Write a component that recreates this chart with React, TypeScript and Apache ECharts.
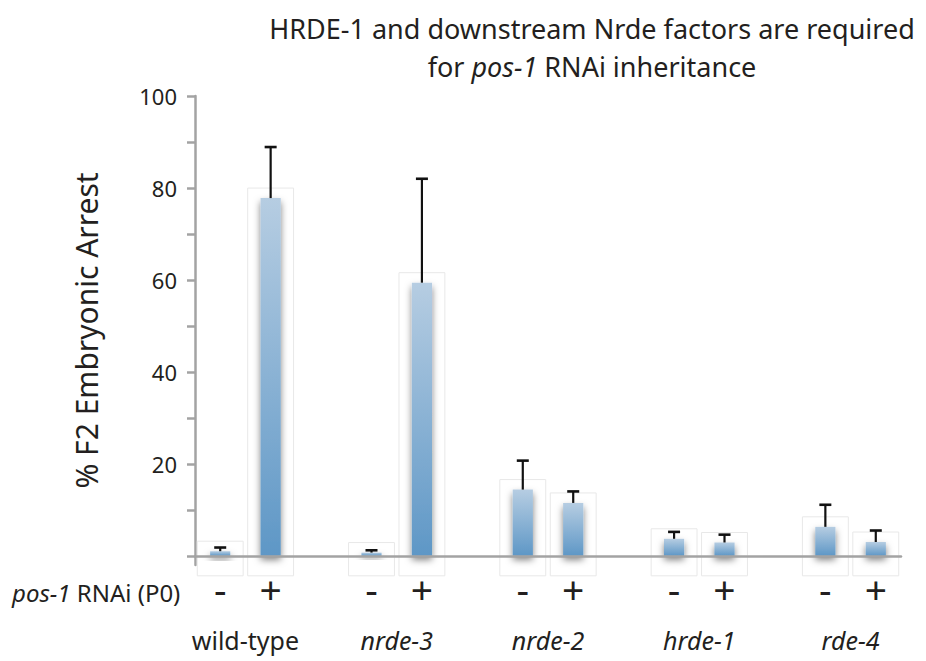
import React, { useEffect, useRef } from "react";
import * as echarts from "echarts";

// Strains tested, each shown without (-) and with (+) pos-1 RNAi in the P0
const strains = ["wild-type", "nrde-3", "nrde-2", "hrde-1", "rde-4"];
const italicStrain = [false, true, true, true, true];
const treatments = ["-", "+"];

// % F2 embryonic arrest, mean and error, ordered [-, +] per strain
const meanMinus = [1.0, 0.7, 14.4, 3.7, 6.3];
const meanPlus = [77.8, 59.4, 11.5, 2.9, 3.0];
const errMinus = [0.8, 0.5, 6.3, 1.5, 4.8];
const errPlus = [11.1, 22.6, 2.5, 1.7, 2.5];

const yTicks = [0, 10, 20, 30, 40, 50, 60, 70, 80, 90, 100];
const yLabels = [20, 40, 60, 80, 100];

const FONT = "Noto Sans";
const INK = "#231f20";

// Category slots: two bars per strain, one empty slot between strains
const slotLabels: string[] = [];
const barData: number[][] = [];
strains.forEach((_, i) => {
  const base = slotLabels.length;
  slotLabels.push(treatments[0], treatments[1]);
  barData.push([base, meanMinus[i], errMinus[i]]);
  barData.push([base + 1, meanPlus[i], errPlus[i]]);
  if (i < strains.length - 1) slotLabels.push("");
});
// group label sits midway between its two bars
const groupCentres = strains.map((_, i) => i * 3 + 1);

export default function App() {
  const ref = useRef<HTMLDivElement>(null);

  useEffect(() => {
    if (!ref.current) return;
    document.body.style.margin = "0";
    const chart = echarts.init(ref.current, undefined, { renderer: "svg" });

    const renderItem = (params: any, api: any) => {
      const slot = api.value(0);
      const mean = api.value(1);
      const err = api.value(2);
      const [cx, yTop] = api.coord([slot, mean]);
      const [, y0] = api.coord([slot, 0]);
      const [, yErr] = api.coord([slot, mean + err]);
      const band = api.size([1, 0])[0];
      const frameW = band * 0.91;
      const barW = band * 0.4;
      const capW = 12;
      return {
        type: "group",
        children: [
          {
            type: "rect",
            shape: { x: cx - frameW / 2, y: yTop - 10, width: frameW, height: y0 + 20 - (yTop - 10) },
            style: { fill: "rgba(255,255,255,0)", stroke: "#e8e8e8", lineWidth: 1 },
          },
          {
            type: "rect",
            shape: { x: cx - barW / 2, y: yTop, width: barW, height: y0 - yTop },
            style: {
              fill: {
                type: "linear",
                x: 0, y: 0, x2: 0, y2: 1,
                colorStops: [
                  { offset: 0, color: "#b6cde2" },
                  { offset: 1, color: "#5e97c6" },
                ],
              },
              shadowBlur: 7,
              shadowColor: "rgba(0,0,0,0.5)",
              shadowOffsetY: 4,
            },
          },
          {
            type: "line",
            shape: { x1: cx, y1: yTop, x2: cx, y2: yErr },
            style: { stroke: "#111", lineWidth: 2.2 },
          },
          {
            type: "line",
            shape: { x1: cx - capW / 2, y1: yErr, x2: cx + capW / 2, y2: yErr },
            style: { stroke: "#111", lineWidth: 2.6 },
          },
        ],
      };
    };

    chart.setOption({
      animation: false,
      textStyle: { fontFamily: FONT },
      grid: { left: 195, right: 25, top: 96, bottom: 96, containLabel: false },
      xAxis: [
        {
          type: "category",
          data: slotLabels,
          z: 3,
          axisLine: { onZero: true, lineStyle: { color: "#a3a3a3", width: 2.5 } },
          axisTick: { show: false },
          axisLabel: { interval: 0, fontSize: 39, color: INK, margin: 4, fontFamily: FONT },
        },
        {
          type: "value",
          min: 0,
          max: slotLabels.length,
          position: "bottom",
          axisLine: { show: false, onZero: false },
          axisTick: { show: false },
          splitLine: { show: false },
          axisLabel: {
            customValues: groupCentres,
            margin: 62,
            fontSize: 25,
            color: INK,
            fontFamily: FONT,
            formatter: (v: number) => {
              const i = groupCentres.indexOf(Math.round(v));
              if (i < 0) return "";
              return italicStrain[i] ? `{i|${strains[i]}}` : strains[i];
            },
            rich: { i: { fontStyle: "italic", fontSize: 25, color: INK, fontFamily: FONT } },
          },
        },
      ],
      yAxis: {
        type: "value",
        min: -2,
        max: 100,
        name: "% F2 Embryonic Arrest",
        nameLocation: "middle",
        nameGap: 94,
        nameTextStyle: { fontSize: 30, color: INK, fontFamily: FONT },
        axisLine: { show: true, lineStyle: { color: "#a3a3a3", width: 2.5 } },
        axisTick: { show: true, length: 8, customValues: yTicks, lineStyle: { color: "#a3a3a3", width: 2.5 } },
        axisLabel: { customValues: yLabels, fontSize: 22, color: INK, margin: 18, fontFamily: FONT },
        splitLine: { show: false },
      },
      graphic: [
        {
          type: "text",
          x: 592,
          y: 9,
          style: {
            text: "HRDE-1 and downstream Nrde factors are required\nfor {i|pos-1} RNAi inheritance",
            textAlign: "center",
            fontSize: 27,
            lineHeight: 38,
            fill: INK,
            fontFamily: FONT,
            rich: { i: { fontStyle: "italic", fontSize: 27, lineHeight: 38, fill: INK, fontFamily: FONT } },
          },
        },
        {
          type: "text",
          x: 12,
          y: 592,
          style: {
            text: "{i|pos-1} RNAi (P0)",
            textVerticalAlign: "middle",
            fontSize: 24,
            fill: INK,
            fontFamily: FONT,
            rich: { i: { fontStyle: "italic", fontSize: 24, fill: INK, fontFamily: FONT } },
          },
        },
      ],
      series: [
        {
          type: "custom",
          xAxisIndex: 0,
          yAxisIndex: 0,
          renderItem,
          clip: false,
          encode: { x: 0, y: 1 },
          data: barData,
        },
      ],
    });

    return () => chart.dispose();
  }, []);

  return <div ref={ref} style={{ width: 926, height: 661 }} />;
}
